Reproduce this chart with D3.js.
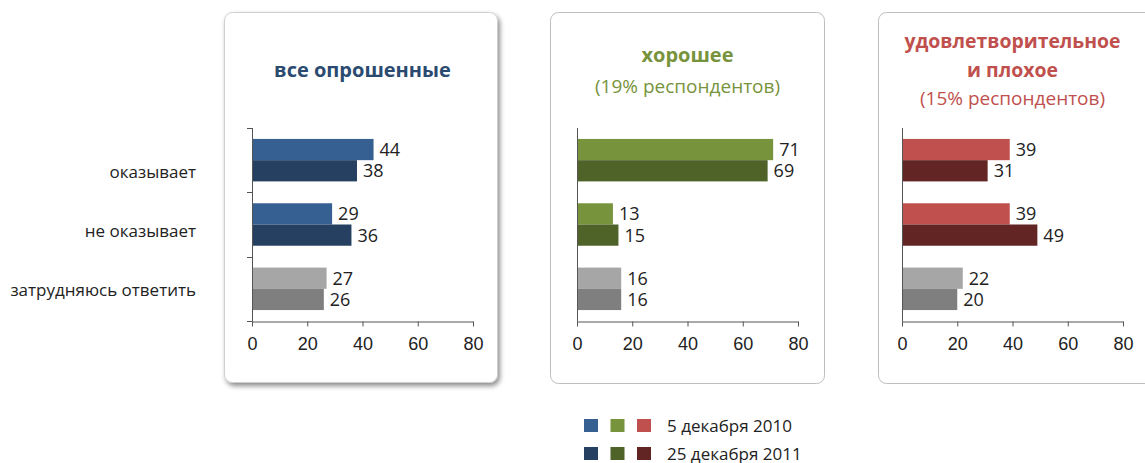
<!DOCTYPE html>
<html>
<head>
<meta charset="utf-8">
<script src="https://cdn.jsdelivr.net/npm/d3@7"></script>
<style>
  html, body { margin: 0; padding: 0; background: #fff; }
  svg { display: block; font-family: "Open Sans", "Noto Sans", sans-serif; }
</style>
</head>
<body>
<svg id="chart" width="1145" height="463"></svg>
<script>
// Survey answers by group, two waves
const categories = ["оказывает", "не оказывает", "затрудняюсь ответить"];
const waves = ["5 декабря 2010", "25 декабря 2011"];
const allValues2010 = [44, 29, 27];
const allValues2011 = [38, 36, 26];
const goodValues2010 = [71, 13, 16];
const goodValues2011 = [69, 15, 16];
const badValues2010 = [39, 39, 22];
const badValues2011 = [31, 49, 20];
const xTicks = [0, 20, 40, 60, 80];

const grayColors = ["#a6a6a6", "#7f7f7f"];

const panels = [
  {
    title: ["все опрошенные"], sub: null, titleColor: "#2b4a70", titleSize: 20,
    titleY: [77], colors: ["#366092", "#254061"],
    values: [allValues2010, allValues2011],
    box: [224, 12, 273, 370], shadow: true, x0: 252, yTicks: true
  },
  {
    title: ["хорошее"], sub: "(19% респондентов)", titleColor: "#77933c", titleSize: 20,
    titleY: [62, 93], colors: ["#77933c", "#4f6228"],
    values: [goodValues2010, goodValues2011],
    box: [550, 12, 274, 371], shadow: false, x0: 577, yTicks: false
  },
  {
    title: ["удовлетворительное", "и плохое"], sub: "(15% респондентов)", titleColor: "#c0504d", titleSize: 19.4,
    titleY: [48, 77, 105], colors: ["#c0504d", "#632523"],
    values: [badValues2010, badValues2011],
    box: [878, 12, 300, 371], shadow: false, x0: 902, yTicks: false
  }
];

const svg = d3.select("#chart");

const defs = svg.append("defs");
const f = defs.append("filter").attr("id", "panelShadow")
  .attr("x", "-5%").attr("y", "-5%").attr("width", "115%").attr("height", "115%");
f.append("feDropShadow").attr("dx", 2).attr("dy", 3).attr("stdDeviation", 2.5)
  .attr("flood-color", "#000").attr("flood-opacity", 0.45);

const plotTop = 128, plotBottom = 321, plotWidth = 221;

const y0 = d3.scaleBand().domain(categories).range([plotTop, plotBottom])
  .paddingInner(0.34).paddingOuter(0.17);
const y1 = d3.scaleBand().domain(waves).range([0, y0.bandwidth()]);

panels.forEach(p => {
  const g = svg.append("g");
  const [bx, by, bw, bh] = p.box;
  g.append("rect")
    .attr("x", bx + 0.5).attr("y", by + 0.5).attr("width", bw).attr("height", bh)
    .attr("rx", 8).attr("ry", 8)
    .attr("fill", "#fff")
    .attr("stroke", p.shadow ? "#cfcfcf" : "#bdbdbd")
    .attr("stroke-width", 1)
    .attr("filter", p.shadow ? "url(#panelShadow)" : null);

  const x = d3.scaleLinear().domain([0, 80]).range([p.x0, p.x0 + plotWidth]);
  const cx = (x.range()[0] + x.range()[1]) / 2;

  // titles
  p.title.forEach((t, i) => {
    g.append("text").attr("x", cx).attr("y", p.titleY[i])
      .attr("text-anchor", "middle").attr("font-weight", "bold")
      .attr("font-size", p.titleSize).attr("fill", p.titleColor).text(t);
  });
  if (p.sub) {
    g.append("text").attr("x", cx).attr("y", p.titleY[p.title.length])
      .attr("text-anchor", "middle").attr("font-size", 19)
      .attr("fill", p.titleColor).text(p.sub);
  }

  // bars
  const rows = categories.map((c, ci) => ({
    cat: c,
    items: waves.map((w, wi) => ({
      wave: w, value: p.values[wi][ci],
      color: ci === 2 ? grayColors[wi] : p.colors[wi]
    }))
  }));

  const grp = g.selectAll(".grp").data(rows).join("g")
    .attr("transform", d => `translate(0,${y0(d.cat)})`);
  grp.selectAll("rect").data(d => d.items).join("rect")
    .attr("x", x(0)).attr("y", d => y1(d.wave))
    .attr("width", d => x(d.value) - x(0)).attr("height", y1.bandwidth())
    .attr("fill", d => d.color);
  grp.selectAll("text").data(d => d.items).join("text")
    .attr("x", d => x(d.value) + 6)
    .attr("y", d => y1(d.wave) + y1.bandwidth() / 2)
    .attr("dy", "0.36em")
    .attr("font-size", 18).attr("fill", "#222")
    .text(d => d.value);

  // x axis
  const xAxis = d3.axisBottom(x).tickValues(xTicks).tickSize(5).tickSizeOuter(0).tickPadding(6);
  const ax = g.append("g").attr("transform", `translate(0,${plotBottom + 0.5})`).call(xAxis);
  ax.select(".domain").attr("stroke", "#555");
  ax.selectAll(".tick line").attr("stroke", "#555");
  ax.selectAll(".tick text").attr("font-size", 18).attr("fill", "#222")
    .attr("font-family", null).attr("dy", "0.95em");

  // y axis line
  g.append("line")
    .attr("x1", x(0) + 0.5).attr("x2", x(0) + 0.5)
    .attr("y1", plotTop).attr("y2", plotBottom + 0.5)
    .attr("stroke", "#555");
  if (p.yTicks) {
    const bounds = [plotTop, ...categories.map(c => y0(c) + y0.bandwidth() + y0.step() * y0.paddingInner() / 2)];
    bounds[bounds.length - 1] = plotBottom;
    g.selectAll(".ytick").data(bounds).join("line")
      .attr("x1", x(0) - 5).attr("x2", x(0))
      .attr("y1", d => Math.round(d) + 0.5).attr("y2", d => Math.round(d) + 0.5)
      .attr("stroke", "#555");
  }
});

// category labels
const labelY = d3.scalePoint().domain(categories).range([178, 296]);
svg.append("g").selectAll("text").data(categories).join("text")
  .attr("x", 196).attr("y", d => labelY(d))
  .attr("text-anchor", "end").attr("font-size", 17).attr("fill", "#222")
  .text(d => d);

// legend
const legend = svg.append("g");
const legendRows = [
  { label: waves[0], colors: panels.map(p => p.colors[0]), y: 419 },
  { label: waves[1], colors: panels.map(p => p.colors[1]), y: 447 }
];
const lg = legend.selectAll("g").data(legendRows).join("g")
  .attr("transform", d => `translate(0,${d.y})`);
lg.selectAll("rect").data(d => d.colors).join("rect")
  .attr("x", (d, i) => 584 + i * 26.5).attr("y", 0)
  .attr("width", 14).attr("height", 13).attr("fill", d => d);
lg.append("text").attr("x", 667).attr("y", 12.5)
  .attr("font-size", 17).attr("fill", "#222").text(d => d.label);
</script>
</body>
</html>
